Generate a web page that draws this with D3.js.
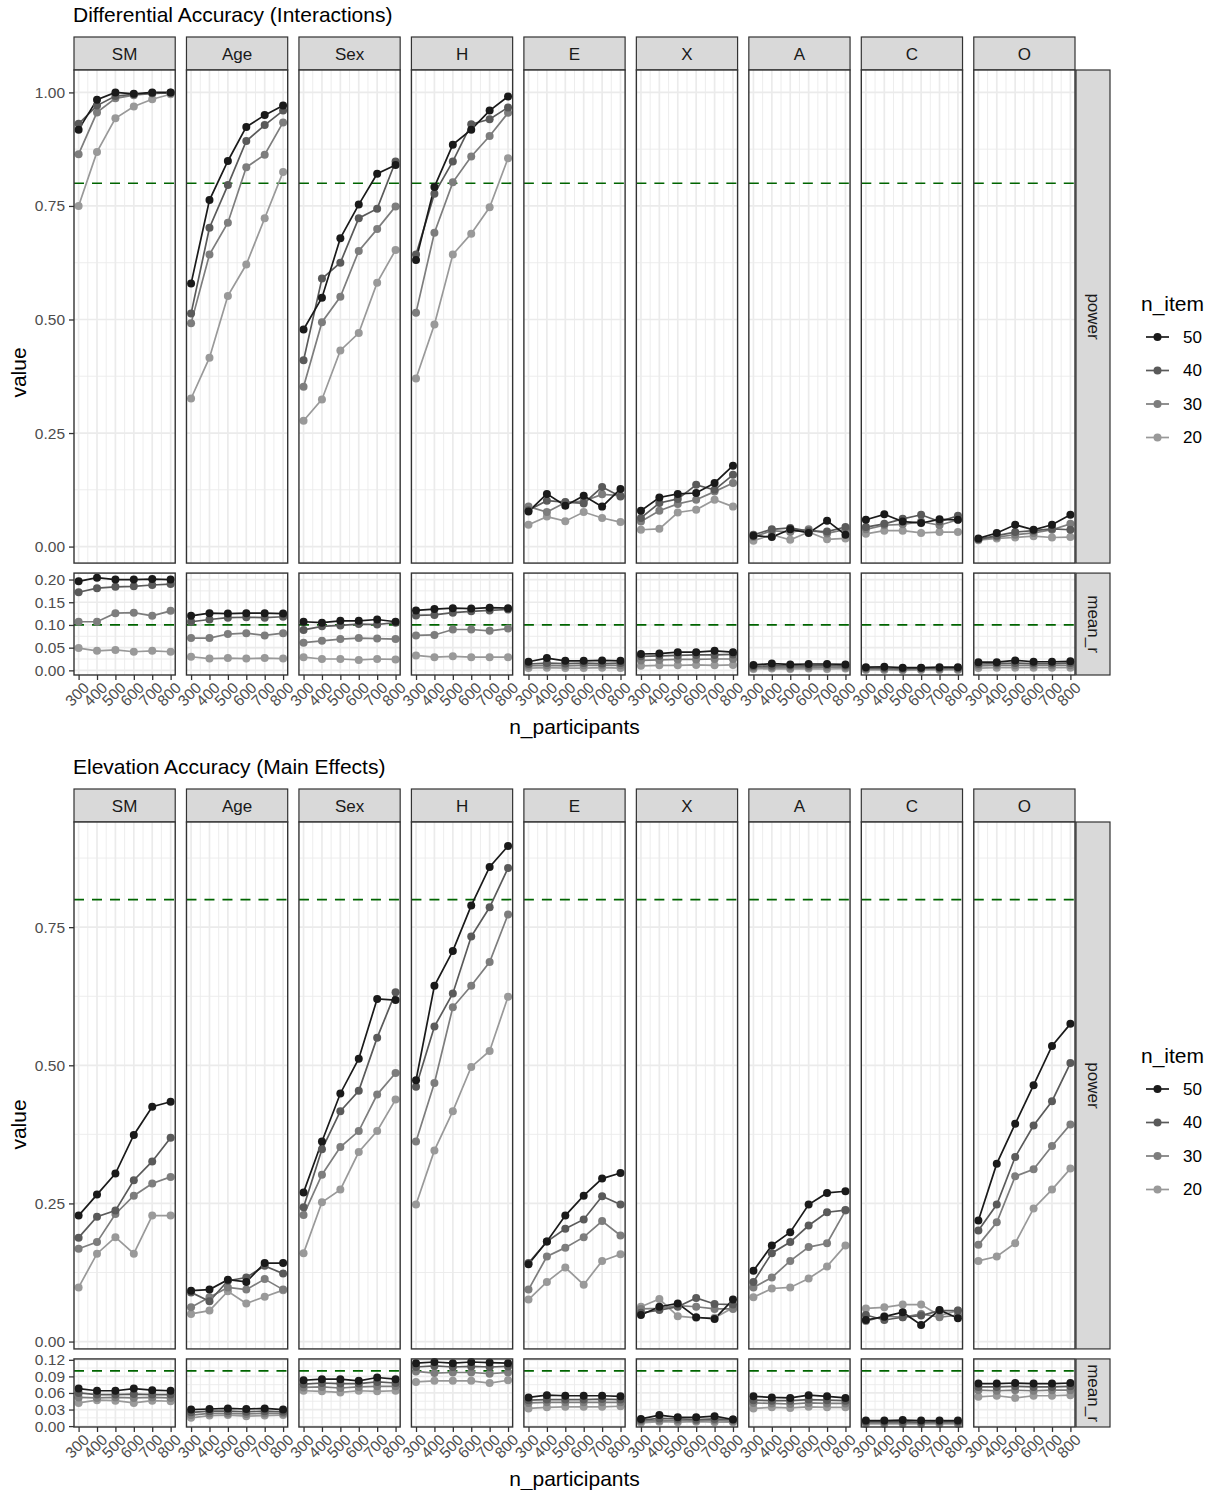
<!DOCTYPE html>
<html>
<head>
<meta charset="utf-8">
<script src="https://cdn.jsdelivr.net/npm/d3@7"></script>
<style>
  body { margin: 0; background: #fff; }
  text { font-family: "Liberation Sans", Arial, Helvetica, sans-serif; }
</style>
</head>
<body>
<svg id="chart" width="1211" height="1490"></svg>
<script>
const facets = ['SM', 'Age', 'Sex', 'H', 'E', 'X', 'A', 'C', 'O']
const nParticipants = [300, 400, 500, 600, 700, 800]
const nItems = ['50', '40', '30', '20']
const itemColors = ['#1a1a1a', '#5a5a5a', '#7d7d7d', '#999999']

// each facet: rows = n_item 50, 40, 30, 20 ; columns = n_participants
const diffPower = {
  SM: [[0.918, 0.984, 1.0, 0.997, 1.0, 1.0], [0.931, 0.971, 0.992, 0.996, 0.998, 0.999], [0.864, 0.956, 0.987, 0.994, 0.998, 0.999], [0.750, 0.869, 0.943, 0.969, 0.985, 0.996]],
  Age: [[0.579, 0.763, 0.849, 0.924, 0.950, 0.971], [0.513, 0.702, 0.796, 0.893, 0.928, 0.960], [0.492, 0.643, 0.713, 0.835, 0.863, 0.934], [0.326, 0.416, 0.552, 0.621, 0.723, 0.825]],
  Sex: [[0.478, 0.548, 0.679, 0.753, 0.821, 0.840], [0.410, 0.590, 0.625, 0.723, 0.744, 0.848], [0.352, 0.494, 0.550, 0.651, 0.699, 0.749], [0.277, 0.324, 0.432, 0.470, 0.581, 0.653]],
  H: [[0.631, 0.792, 0.885, 0.918, 0.960, 0.991], [0.643, 0.777, 0.848, 0.930, 0.941, 0.967], [0.515, 0.691, 0.802, 0.859, 0.904, 0.955], [0.370, 0.489, 0.643, 0.689, 0.747, 0.855]],
  E: [[0.077, 0.116, 0.090, 0.112, 0.088, 0.127], [0.080, 0.101, 0.098, 0.095, 0.131, 0.110], [0.088, 0.076, 0.097, 0.100, 0.115, 0.112], [0.048, 0.066, 0.056, 0.076, 0.063, 0.054]],
  X: [[0.079, 0.108, 0.116, 0.118, 0.140, 0.178], [0.063, 0.096, 0.105, 0.136, 0.125, 0.158], [0.055, 0.079, 0.094, 0.103, 0.121, 0.140], [0.037, 0.039, 0.075, 0.081, 0.103, 0.088]],
  A: [[0.024, 0.021, 0.038, 0.030, 0.057, 0.026], [0.026, 0.038, 0.041, 0.034, 0.033, 0.043], [0.021, 0.035, 0.032, 0.038, 0.029, 0.038], [0.013, 0.026, 0.015, 0.032, 0.016, 0.018]],
  C: [[0.059, 0.071, 0.055, 0.052, 0.060, 0.059], [0.043, 0.050, 0.061, 0.070, 0.055, 0.068], [0.038, 0.047, 0.049, 0.055, 0.047, 0.059], [0.028, 0.035, 0.035, 0.030, 0.032, 0.032]],
  O: [[0.018, 0.030, 0.048, 0.037, 0.048, 0.070], [0.016, 0.024, 0.032, 0.035, 0.039, 0.037], [0.016, 0.021, 0.026, 0.030, 0.037, 0.050], [0.014, 0.018, 0.020, 0.023, 0.020, 0.021]]
}

const diffMeanR = {
  SM: [[0.196, 0.204, 0.200, 0.200, 0.201, 0.200], [0.172, 0.181, 0.184, 0.185, 0.188, 0.190], [0.107, 0.107, 0.126, 0.127, 0.120, 0.131], [0.049, 0.043, 0.045, 0.041, 0.043, 0.041]],
  Age: [[0.120, 0.126, 0.125, 0.126, 0.126, 0.125], [0.107, 0.112, 0.116, 0.117, 0.116, 0.118], [0.071, 0.071, 0.080, 0.082, 0.077, 0.082], [0.030, 0.026, 0.027, 0.026, 0.027, 0.026]],
  Sex: [[0.107, 0.105, 0.109, 0.109, 0.112, 0.107], [0.089, 0.097, 0.099, 0.102, 0.101, 0.105], [0.061, 0.065, 0.069, 0.071, 0.070, 0.069], [0.029, 0.025, 0.025, 0.023, 0.025, 0.024]],
  H: [[0.132, 0.135, 0.137, 0.136, 0.138, 0.137], [0.121, 0.122, 0.127, 0.130, 0.132, 0.134], [0.077, 0.078, 0.090, 0.090, 0.087, 0.092], [0.033, 0.029, 0.031, 0.029, 0.029, 0.029]],
  E: [[0.019, 0.027, 0.021, 0.021, 0.022, 0.021], [0.014, 0.016, 0.015, 0.016, 0.015, 0.016], [0.010, 0.011, 0.010, 0.011, 0.011, 0.011], [0.005, 0.006, 0.005, 0.005, 0.006, 0.005]],
  X: [[0.036, 0.037, 0.040, 0.040, 0.043, 0.040], [0.031, 0.032, 0.033, 0.034, 0.034, 0.035], [0.022, 0.023, 0.024, 0.024, 0.025, 0.025], [0.010, 0.011, 0.011, 0.012, 0.011, 0.012]],
  A: [[0.012, 0.015, 0.013, 0.014, 0.014, 0.013], [0.009, 0.010, 0.010, 0.010, 0.011, 0.010], [0.006, 0.007, 0.006, 0.007, 0.007, 0.007], [0.003, 0.004, 0.003, 0.004, 0.003, 0.004]],
  C: [[0.007, 0.008, 0.006, 0.006, 0.007, 0.007], [0.005, 0.005, 0.004, 0.005, 0.005, 0.005], [0.003, 0.003, 0.002, 0.003, 0.003, 0.003], [0.001, 0.001, 0.000, 0.001, 0.001, 0.001]],
  O: [[0.018, 0.018, 0.022, 0.019, 0.019, 0.020], [0.014, 0.015, 0.016, 0.015, 0.015, 0.016], [0.010, 0.011, 0.011, 0.011, 0.011, 0.011], [0.005, 0.006, 0.006, 0.006, 0.006, 0.006]]
}

const elevPower = {
  SM: [[0.228, 0.266, 0.304, 0.374, 0.425, 0.434], [0.188, 0.226, 0.237, 0.292, 0.326, 0.369], [0.168, 0.180, 0.231, 0.264, 0.286, 0.298], [0.098, 0.159, 0.189, 0.159, 0.228, 0.228]],
  Age: [[0.092, 0.094, 0.112, 0.108, 0.142, 0.142], [0.089, 0.073, 0.110, 0.116, 0.137, 0.123], [0.062, 0.080, 0.098, 0.094, 0.113, 0.094], [0.050, 0.056, 0.091, 0.069, 0.081, 0.093]],
  Sex: [[0.270, 0.362, 0.449, 0.512, 0.620, 0.618], [0.243, 0.348, 0.417, 0.454, 0.550, 0.632], [0.229, 0.302, 0.352, 0.381, 0.447, 0.486], [0.160, 0.252, 0.275, 0.343, 0.381, 0.438]],
  H: [[0.473, 0.644, 0.707, 0.789, 0.859, 0.897], [0.461, 0.570, 0.630, 0.733, 0.786, 0.857], [0.362, 0.468, 0.605, 0.644, 0.687, 0.773], [0.248, 0.346, 0.417, 0.497, 0.526, 0.624]],
  E: [[0.140, 0.181, 0.228, 0.264, 0.295, 0.305], [0.142, 0.181, 0.204, 0.221, 0.263, 0.248], [0.094, 0.154, 0.170, 0.189, 0.218, 0.192], [0.076, 0.108, 0.134, 0.103, 0.146, 0.158]],
  X: [[0.048, 0.063, 0.069, 0.044, 0.041, 0.076], [0.052, 0.057, 0.063, 0.079, 0.068, 0.067], [0.059, 0.060, 0.065, 0.063, 0.059, 0.059], [0.063, 0.077, 0.046, 0.043, 0.043, 0.061]],
  A: [[0.128, 0.174, 0.198, 0.248, 0.269, 0.272], [0.108, 0.160, 0.180, 0.210, 0.234, 0.238], [0.098, 0.116, 0.146, 0.171, 0.178, 0.237], [0.080, 0.096, 0.098, 0.114, 0.136, 0.174]],
  C: [[0.039, 0.045, 0.053, 0.030, 0.057, 0.042], [0.048, 0.039, 0.044, 0.047, 0.056, 0.056], [0.037, 0.046, 0.044, 0.050, 0.044, 0.048], [0.060, 0.062, 0.067, 0.067, 0.047, 0.056]],
  O: [[0.219, 0.322, 0.394, 0.464, 0.535, 0.575], [0.201, 0.248, 0.334, 0.391, 0.435, 0.504], [0.175, 0.216, 0.299, 0.312, 0.354, 0.393], [0.146, 0.154, 0.178, 0.241, 0.275, 0.313]]
}

const elevMeanR = {
  SM: [[0.068, 0.064, 0.064, 0.068, 0.065, 0.064], [0.060, 0.057, 0.057, 0.058, 0.057, 0.057], [0.052, 0.051, 0.052, 0.051, 0.052, 0.051], [0.042, 0.047, 0.046, 0.042, 0.046, 0.045]],
  Age: [[0.030, 0.031, 0.032, 0.031, 0.032, 0.030], [0.025, 0.027, 0.027, 0.026, 0.027, 0.026], [0.020, 0.023, 0.023, 0.022, 0.023, 0.023], [0.015, 0.019, 0.020, 0.018, 0.019, 0.020]],
  Sex: [[0.083, 0.085, 0.085, 0.082, 0.088, 0.085], [0.076, 0.078, 0.077, 0.077, 0.080, 0.078], [0.070, 0.071, 0.069, 0.071, 0.072, 0.072], [0.064, 0.063, 0.061, 0.064, 0.063, 0.064]],
  H: [[0.114, 0.116, 0.114, 0.116, 0.115, 0.114], [0.107, 0.109, 0.107, 0.108, 0.107, 0.108], [0.099, 0.096, 0.097, 0.097, 0.095, 0.097], [0.080, 0.082, 0.082, 0.082, 0.078, 0.083]],
  E: [[0.052, 0.056, 0.055, 0.055, 0.055, 0.054], [0.047, 0.048, 0.048, 0.048, 0.049, 0.048], [0.042, 0.043, 0.043, 0.043, 0.043, 0.043], [0.032, 0.034, 0.035, 0.035, 0.035, 0.036]],
  X: [[0.013, 0.020, 0.016, 0.016, 0.018, 0.012], [0.011, 0.014, 0.013, 0.012, 0.013, 0.012], [0.009, 0.010, 0.010, 0.010, 0.010, 0.009], [0.006, 0.008, 0.007, 0.008, 0.007, 0.007]],
  A: [[0.054, 0.052, 0.051, 0.056, 0.054, 0.051], [0.047, 0.046, 0.046, 0.048, 0.047, 0.046], [0.042, 0.041, 0.040, 0.042, 0.041, 0.041], [0.032, 0.034, 0.033, 0.035, 0.034, 0.034]],
  C: [[0.010, 0.010, 0.011, 0.010, 0.010, 0.010], [0.008, 0.008, 0.008, 0.007, 0.008, 0.008], [0.006, 0.006, 0.006, 0.006, 0.006, 0.006], [0.004, 0.004, 0.004, 0.004, 0.004, 0.004]],
  O: [[0.077, 0.077, 0.078, 0.077, 0.077, 0.078], [0.071, 0.071, 0.072, 0.071, 0.071, 0.072], [0.065, 0.064, 0.065, 0.064, 0.065, 0.065], [0.053, 0.055, 0.051, 0.055, 0.055, 0.056]]
}

const diffPowerTicks = [0, 0.25, 0.5, 0.75, 1]
const diffMeanRTicks = [0, 0.05, 0.1, 0.15, 0.2]
const elevPowerTicks = [0, 0.25, 0.5, 0.75]
const elevMeanRTicks = [0, 0.03, 0.06, 0.09, 0.12]
const thresholds = { power: 0.8, mean_r: 0.1 }

const plots = [
  { title: 'Differential Accuracy (Interactions)', offset: 0, power: diffPower, meanR: diffMeanR, powerTicks: diffPowerTicks, meanRTicks: diffMeanRTicks },
  { title: 'Elevation Accuracy (Main Effects)', offset: 752, power: elevPower, meanR: elevMeanR, powerTicks: elevPowerTicks, meanRTicks: elevMeanRTicks }
]
// --------------------------------------------

const svg = d3.select('#chart')
const grid = '#ebebeb'
const dark = '#333333'
const font = '"Liberation Sans", Arial, sans-serif'

const panelX = d3.scaleBand().domain(facets).range([74, 1075]).paddingInner(0.1).paddingOuter(0)
const bw = panelX.bandwidth()
const x = d3.scaleLinear().domain([275, 825]).range([0, bw])
const xMinor = [350, 450, 550, 650, 750]

const expand = values => {
  const [lo, hi] = d3.extent(values)
  const pad = (hi - lo) * 0.05
  return [lo - pad, hi + pad]
}

const minorOf = ticks => {
  const step = ticks[1] - ticks[0]
  return d3.range(ticks.length + 1).map(i => ticks[0] + (i - 0.5) * step)
}

const line = d3.line()

const drawPlot = plot => {
  const g = svg.append('g').attr('transform', `translate(0,${plot.offset})`)

  g.append('text')
    .attr('x', 73).attr('y', 22)
    .attr('font-size', 21).attr('fill', '#000')
    .text(plot.title)

  const rows = [
    { key: 'power', data: plot.power, ticks: plot.powerTicks },
    { key: 'mean_r', data: plot.meanR, ticks: plot.meanRTicks }
  ]
  rows.forEach(r => { r.domain = expand(facets.flatMap(f => r.data[f].flat())) })

  const top = 70
  const gap = 10
  const total = 605 - gap
  const spanSum = d3.sum(rows, r => r.domain[1] - r.domain[0])
  let cursor = top
  rows.forEach(r => {
    r.top = cursor
    r.height = total * (r.domain[1] - r.domain[0]) / spanSum
    r.y = d3.scaleLinear().domain(r.domain).range([r.top + r.height, r.top])
    cursor += r.height + gap
  })

  // column strips
  const strip = g.selectAll('g.strip').data(facets).enter().append('g')
    .attr('transform', f => `translate(${panelX(f)},37)`)
  strip.append('rect')
    .attr('width', bw).attr('height', 33)
    .attr('fill', '#d9d9d9').attr('stroke', dark).attr('stroke-width', 1.2)
  strip.append('text')
    .attr('x', bw / 2).attr('y', 17)
    .attr('text-anchor', 'middle').attr('dominant-baseline', 'central')
    .attr('font-size', 17).attr('fill', '#1a1a1a')
    .text(f => f)

  rows.forEach((r, ri) => {
    const minorY = minorOf(r.ticks).filter(v => v > r.domain[0] && v < r.domain[1])

    facets.forEach(f => {
      const p = g.append('g').attr('transform', `translate(${panelX(f)},0)`)
      p.append('rect').attr('y', r.top).attr('width', bw).attr('height', r.height).attr('fill', '#fff')

      p.selectAll('line.ymin').data(minorY).enter().append('line')
        .attr('x1', 0).attr('x2', bw).attr('y1', d => r.y(d)).attr('y2', d => r.y(d))
        .attr('stroke', grid).attr('stroke-width', 0.9)
      p.selectAll('line.xmin').data(xMinor).enter().append('line')
        .attr('x1', d => x(d)).attr('x2', d => x(d)).attr('y1', r.top).attr('y2', r.top + r.height)
        .attr('stroke', grid).attr('stroke-width', 0.9)
      p.selectAll('line.ymaj').data(r.ticks).enter().append('line')
        .attr('x1', 0).attr('x2', bw).attr('y1', d => r.y(d)).attr('y2', d => r.y(d))
        .attr('stroke', grid).attr('stroke-width', 1.7)
      p.selectAll('line.xmaj').data(nParticipants).enter().append('line')
        .attr('x1', d => x(d)).attr('x2', d => x(d)).attr('y1', r.top).attr('y2', r.top + r.height)
        .attr('stroke', grid).attr('stroke-width', 1.7)

      p.append('line')
        .attr('x1', 0).attr('x2', bw)
        .attr('y1', r.y(thresholds[r.key])).attr('y2', r.y(thresholds[r.key]))
        .attr('stroke', '#006400').attr('stroke-width', 1.7).attr('stroke-dasharray', '10,8')

      const series = r.data[f].map((vals, i) => ({ i, pts: vals.map((v, j) => [x(nParticipants[j]), r.y(v)]) })).reverse()

      p.selectAll('path.series').data(series).enter().append('path')
        .attr('d', s => line(s.pts))
        .attr('fill', 'none').attr('stroke', s => itemColors[s.i]).attr('stroke-width', 1.7)

      series.forEach(s => {
        p.selectAll(null).data(s.pts).enter().append('circle')
          .attr('cx', d => d[0]).attr('cy', d => d[1]).attr('r', 4)
          .attr('fill', itemColors[s.i])
      })

      p.append('rect').attr('y', r.top).attr('width', bw).attr('height', r.height)
        .attr('fill', 'none').attr('stroke', dark).attr('stroke-width', 1.4)

      if (ri === rows.length - 1) {
        const ax = p.append('g').attr('transform', `translate(0,${r.top + r.height})`)
          .call(d3.axisBottom(x).tickValues(nParticipants).tickSize(5).tickSizeOuter(0))
        ax.select('.domain').remove()
        ax.selectAll('line').attr('stroke', dark).attr('stroke-width', 1.3)
        ax.selectAll('text')
          .attr('y', 0).attr('dy', '0.72em')
          .attr('transform', 'translate(3,6) rotate(-45)')
          .attr('text-anchor', 'end')
          .attr('font-size', 15.5).attr('fill', '#4d4d4d')
          .attr('font-family', font)
      }
    })

    const ay = g.append('g').attr('transform', `translate(${panelX(facets[0])},0)`)
      .call(d3.axisLeft(r.y).tickValues(r.ticks).tickFormat(d3.format('.2f')).tickSize(5).tickPadding(4))
    ay.select('.domain').remove()
    ay.selectAll('line').attr('stroke', dark).attr('stroke-width', 1.3)
    ay.selectAll('text').attr('font-size', 15.5).attr('fill', '#4d4d4d')
      .attr('font-family', font)

    // row strip
    const rs = g.append('g').attr('transform', `translate(1076,${r.top})`)
    rs.append('rect').attr('width', 34).attr('height', r.height)
      .attr('fill', '#d9d9d9').attr('stroke', dark).attr('stroke-width', 1.2)
    rs.append('text')
      .attr('transform', `translate(17,${r.height / 2}) rotate(90)`)
      .attr('text-anchor', 'middle').attr('dominant-baseline', 'central')
      .attr('font-size', 17).attr('fill', '#1a1a1a')
      .text(r.key)
  })

  const bottom = rows[rows.length - 1].top + rows[rows.length - 1].height

  g.append('text')
    .attr('transform', `translate(26,${(top + bottom) / 2}) rotate(-90)`)
    .attr('text-anchor', 'middle').attr('font-size', 21).attr('fill', '#000')
    .text('value')

  g.append('text')
    .attr('x', (74 + 1075) / 2).attr('y', bottom + 59)
    .attr('text-anchor', 'middle').attr('font-size', 21).attr('fill', '#000')
    .text('n_participants')

  // legend
  const lg = g.append('g').attr('transform', 'translate(1141,303)')
  lg.append('text').attr('x', 0).attr('y', 0).attr('dominant-baseline', 'central')
    .attr('font-size', 21).attr('fill', '#000').text('n_item')
  const item = lg.selectAll('g.item').data(nItems).enter().append('g')
    .attr('transform', (_, i) => `translate(0,${34 + i * 33.5})`)
  item.append('line').attr('x1', 5).attr('x2', 28).attr('y1', 0).attr('y2', 0)
    .attr('stroke', (_, i) => itemColors[i]).attr('stroke-width', 1.7)
  item.append('circle').attr('cx', 16.5).attr('cy', 0).attr('r', 4)
    .attr('fill', (_, i) => itemColors[i])
  item.append('text').attr('x', 42).attr('y', 0).attr('dominant-baseline', 'central')
    .attr('font-size', 17).attr('fill', '#000').text(d => d)
}

plots.forEach(drawPlot)
</script>
</body>
</html>
